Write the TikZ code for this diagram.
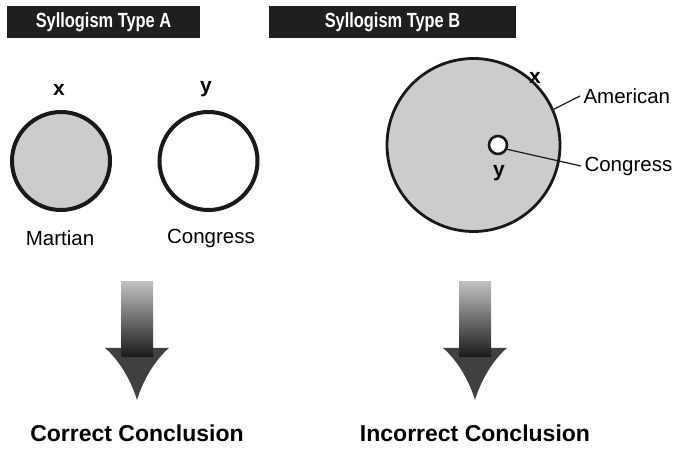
\documentclass[tikz,border=0pt]{standalone}
\usepackage{fontspec}
\setmainfont{Liberation Sans}
\newfontfamily\narrowsans[FakeStretch=0.8]{Liberation Sans}
\usetikzlibrary{positioning}

\begin{document}
\begin{tikzpicture}[x=1pt, y=-1pt,
  header/.style={fill=black!88, text=white, font=\narrowsans\fontsize{20.5}{24}\selectfont\bfseries, minimum height=32pt, inner sep=0pt},
  setcircle/.style={circle, draw=black!90, line width=4pt, minimum size=98pt, inner sep=0pt},
  varlabel/.style={font=\fontsize{21}{24}\selectfont\bfseries},
  namelabel/.style={font=\fontsize{20.5}{24}\selectfont},
  verdict/.style={font=\fontsize{23}{26}\selectfont\bfseries},
  pointer/.style={line width=1.2pt, black!90}
]
  \useasboundingbox (0,0) rectangle (673,449);
  % headers
  \node[header, minimum width=193pt] (hdrA) at (103.5,22) {Syllogism Type A};
  \node[header, minimum width=247pt] (hdrB) at (392.5,22) {Syllogism Type B};
  % type A
  \node[setcircle, fill=black!20] (circX) at (61,161) {};
  \node[setcircle, fill=white] (circY) at (208.5,161) {};
  \node[varlabel] (labX) at (59,90) {x};
  \node[varlabel] (labY) at (206,89) {y};
  \node[namelabel] (martian) at (60,238) {Martian};
  \node[namelabel] (congA) at (211,238) {Congress};
  % type B
  \node[setcircle, fill=black!20, line width=2.8pt, minimum size=173pt] (bigX) at (473.5,145) {};
  \node[circle, draw=black!90, fill=white, line width=2.6pt, minimum size=18pt, inner sep=0pt] (smallY) at (498,145) {};
  \node[varlabel] (labBX) at (535,78) {x};
  \node[varlabel] (labBY) at (499,173) {y};
  \node[namelabel, anchor=west] (american) at (580,96) {American};
  \node[namelabel, anchor=west] (congB) at (581,166) {Congress};
  \draw[pointer] (bigX.24) -- (american.west);
  \draw[pointer] (smallY.-25) -- (congB.west);
  % arrows
  \foreach \cx/\nm in {137/arrA, 475/arrB} {
    \fill[black!75] (\cx-32,348) .. controls (\cx-18,360) and (\cx-6,380) .. (\cx,400)
      .. controls (\cx+6,380) and (\cx+18,360) .. (\cx+32,348) -- cycle;
    \shade[top color=black!25, bottom color=black!90] (\cx-16,282) rectangle (\cx+16,357);
    \coordinate (\nm) at (\cx,400);
  }
  \node[verdict, below=21pt of arrA] (correct) {Correct Conclusion};
  \node[verdict, below=21pt of arrB] (incorrect) {Incorrect Conclusion};
\end{tikzpicture}
\end{document}
